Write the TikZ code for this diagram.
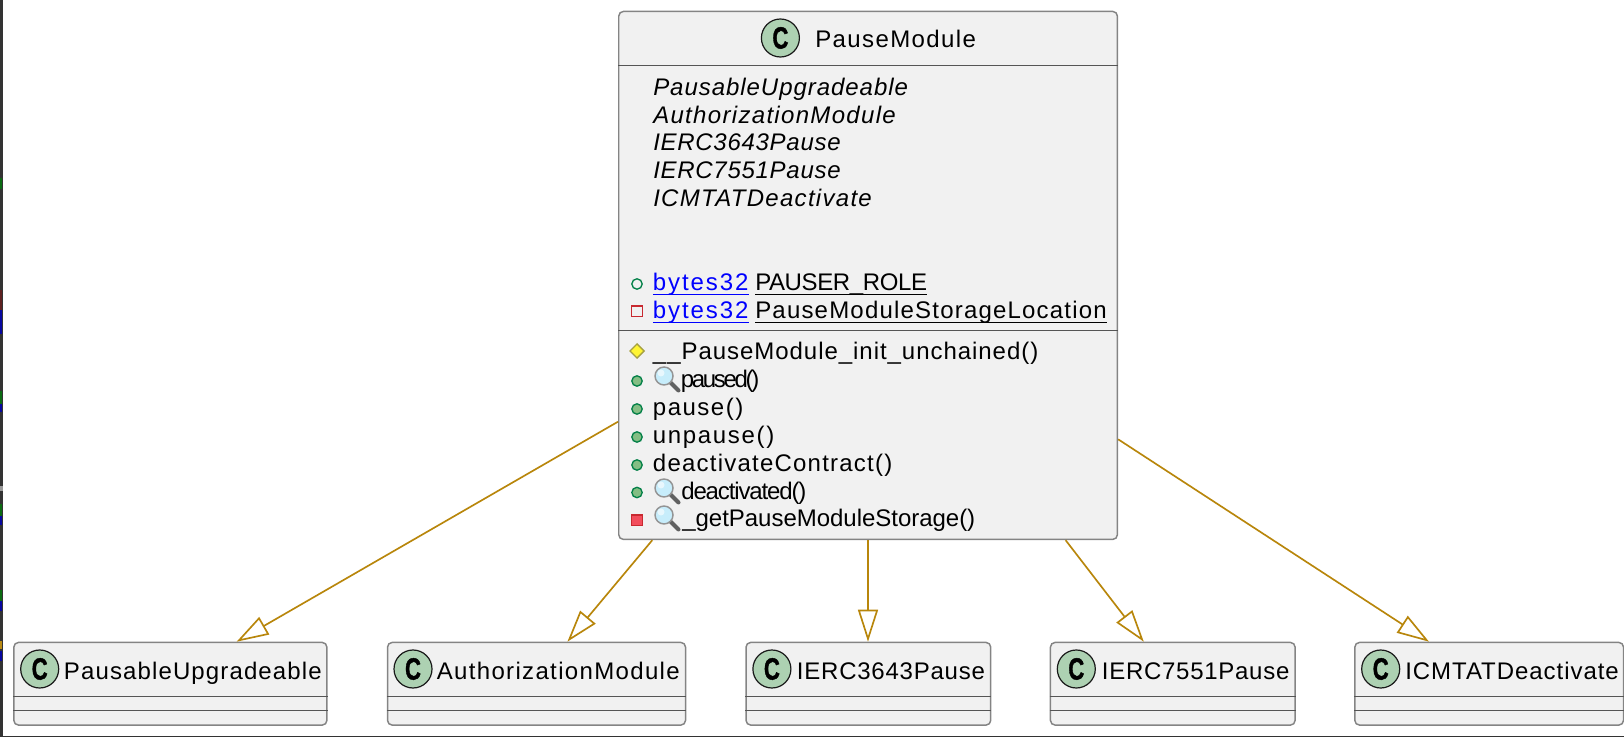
\documentclass[tikz,border=0pt]{standalone}
\usepackage{fontspec}
\setmainfont{Liberation Sans}
\usetikzlibrary{arrows.meta,calc,shapes.geometric}
\definecolor{boxfill}{HTML}{F1F1F1}
\definecolor{boxline}{HTML}{848484}
\definecolor{sepline}{HTML}{555555}
\definecolor{inhcol}{HTML}{B8860B}
\definecolor{cfill}{HTML}{ADD1B2}
\definecolor{pubc}{HTML}{038048}
\definecolor{pubf}{HTML}{84BE84}
\definecolor{privc}{HTML}{C82930}
\definecolor{privf}{HTML}{F24D5C}
\definecolor{stripg}{HTML}{0B6B12}
\definecolor{stripr}{HTML}{5E2222}
\definecolor{stripb}{HTML}{0808A0}
\definecolor{stripo}{HTML}{B98A14}
\newcommand\ls[1]{\addfontfeature{LetterSpace=#1}}
\newcommand\ulnd[2][black]{\setbox0=\hbox{#2}\rlap{\textcolor{#1}{\rule[-3.2pt]{\wd0}{1.1pt}}}\box0}
\tikzset{
  x=0.75pt,y=-0.75pt,
  classbox/.style={draw=boxline,fill=boxfill,line width=1.1pt,rounded corners=3.5pt,inner sep=0pt,anchor=north west},
  sepl/.style={draw=sepline,line width=0.75pt},
  txt/.style={anchor=base west,inner sep=0pt,yshift=-0.75pt,font=\fontsize{18pt}{20pt}\selectfont},
  ctag/.style={circle,draw=black!90,fill=cfill,line width=0.9pt,minimum size=28.5pt,inner sep=0pt,
     font=\fontsize{23pt}{24pt}\selectfont\bfseries\addfontfeature{FakeBold=1.5}},
  inh/.style={draw=inhcol,line width=1.25pt,-{Triangle[open,length=24pt,width=15pt,fill=white]}},
  pubopen/.style={circle,draw=pubc,line width=1pt,minimum size=7.8pt,inner sep=0pt},
  pubfill/.style={circle,draw=pubc,fill=pubf,line width=1pt,minimum size=7.8pt,inner sep=0pt},
  privopen/.style={rectangle,draw=privc,line width=1pt,minimum size=8pt,inner sep=0pt},
  privfill/.style={rectangle,draw=privc,fill=privf,line width=1pt,minimum size=8pt,inner sep=0pt},
  lens/.pic={
    \draw[line width=3pt,draw=black!62,line cap=round] (6,6) -- (14.5,14.5);
    \fill[fill=cyan!22!white,draw=black!42,line width=1.1pt] (0,0) circle (9);
    \fill[white,opacity=.6] (-3,-3) circle (3.5);
  }
}
\begin{document}
\begin{tikzpicture}
\useasboundingbox (0,0) rectangle (1624,737);
% window edge
\fill[black!80] (0,0) rectangle (3,737);
\fill[black!80] (3,735.7) rectangle (1624,737);
\fill[stripg] (0,177.6) rectangle (2,189);
\fill[stripr] (0,290) rectangle (2,310);
\fill[stripb] (0,310) rectangle (2,334);
\fill[stripg] (0,391) rectangle (2,404);
\fill[stripb] (0,404) rectangle (2,412);
\fill[black!40] (0,486) rectangle (3,491);
\fill[stripg] (0,504) rectangle (2,516);
\fill[stripb] (0,516) rectangle (2,525);
\fill[stripg] (0,590) rectangle (2,601);
\fill[stripb] (0,601) rectangle (2,611);
\fill[stripo] (0,641) rectangle (2,649);
\fill[stripb] (0,651) rectangle (2,661);

% main class
\node[classbox,minimum width=374pt,minimum height=396pt] (main) at (618,10.7) {};
\draw[sepl] (main.west |- 0,65.7) -- (main.east |- 0,65.7);
\draw[sepl] (main.west |- 0,330.3) -- (main.east |- 0,330.3);
\node[ctag] (mainc) at (780.4,38) {\scalebox{.72}[1]{C}};
\node[txt] (maint) at (815,46.7) {\ls{5.8}PauseModule};
\node[txt] (i1) at (653,95) {\itshape\ls{4}PausableUpgradeable};
\node[txt] (i2) at (653,122.7) {\itshape\ls{5.5}AuthorizationModule};
\node[txt] (i3) at (653,150) {\itshape\ls{3}IERC3643Pause};
\node[txt] (i4) at (653,177.7) {\itshape\ls{3}IERC7551Pause};
\node[txt] (i5) at (653,205.7) {\itshape\ls{5.4}ICMTATDeactivate};
\node[pubopen] (v1) at (637,284) {};
\node[txt] (f1a) at (652.7,290) {\ulnd[blue]{\color{blue}\ls{8}bytes32}};
\node[txt] (f1b) at (755,290) {\ulnd{\ls{-1.6}PAUSER\_ROLE}};
\node[privopen] (v2) at (637,311.5) {};
\node[txt] (f2a) at (652.7,318) {\ulnd[blue]{\color{blue}\ls{8}bytes32}};
\node[txt] (f2b) at (755,318) {\ulnd{\ls{5}PauseModuleStorageLocation}};
\node[diamond,aspect=1,draw=yellow!60!black,fill=yellow!80!white,line width=1pt,minimum size=11pt,inner sep=0pt] (v3) at (637,351) {};
\node[pubfill] (v4) at (637,381) {};
\node[pubfill] (v5) at (637,409) {};
\node[pubfill] (v6) at (637,437) {};
\node[pubfill] (v7) at (637,465) {};
\node[pubfill] (v8) at (637,492.5) {};
\node[privfill] (v9) at (637,520.5) {};
\node[txt] (m1) at (652.7,359) {\ls{4}\_\_PauseModule\_init\_unchained()};
\pic at (664,376) {lens};
\node[txt] (m2) at (680.5,387) {\ls{-9.6}paused()};
\node[txt] (m3) at (652.7,415) {\ls{6.2}pause()};
\node[txt] (m4) at (652.7,442.7) {\ls{6.9}unpause()};
\node[txt] (m5) at (652.7,470.7) {\ls{5.1}deactivateContract()};
\pic at (664,488) {lens};
\node[txt] (m6) at (681,499) {\ls{-4.7}deactivated()};
\pic at (664,515) {lens};
\node[txt] (m7) at (682,526) {\ls{-0.1}\_getPauseModuleStorage()};

% parents
\newcommand\parentbox[7]{%
  \node[classbox,minimum width=#3,minimum height=62pt] (#1) at (#2,641.7) {};
  \draw[sepl] (#1.west |- 0,696.7) -- (#1.east |- 0,696.7);
  \draw[sepl] (#1.west |- 0,710.3) -- (#1.east |- 0,710.3);
  \node[ctag] (#1c) at (#4,669) {\scalebox{.72}[1]{C}};
  \node[txt] (#1t) at (#5,678) {\ls{#7}#6};
}
\parentbox{pu}{13.1}{234.8pt}{39.7}{63.7}{PausableUpgradeable}{4.7}
\parentbox{au}{386.8}{223.5pt}{413}{436.5}{AuthorizationModule}{5.6}
\parentbox{ia}{745.3}{183.5pt}{771.9}{796.7}{IERC3643Pause}{3.2}
\parentbox{ib}{1049.7}{183.5pt}{1076.3}{1101.7}{IERC7551Pause}{3}
\parentbox{ic}{1354.1}{201.5pt}{1380.7}{1405}{ICMTATDeactivate}{4}

% connectors
\draw[inh] (main.west |- 0,421.7) -- (236.6,0 |- pu.north);
\draw[inh] (652.3,0 |- main.south) -- (567.4,0 |- au.north);
\draw[inh] (868,0 |- main.south) -- (868,0 |- ia.north);
\draw[inh] (1065.6,0 |- main.south) -- (1143.8,0 |- ib.north);
\draw[inh] (main.east |- 0,439.3) -- (1429,0 |- ic.north);
\end{tikzpicture}
\end{document}
